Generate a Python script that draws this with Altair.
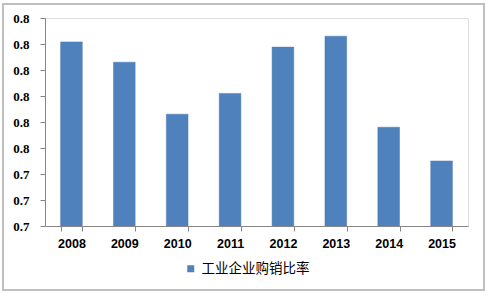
import altair as alt
import pandas as pd

years = ["2008", "2009", "2010", "2011", "2012", "2013", "2014", "2015"]
values = [0.7704, 0.7665, 0.7565, 0.7605, 0.7694, 0.7715, 0.7540, 0.7475]
series_name = "工业企业购销比率"
y_ticks = [0.735, 0.74, 0.745, 0.75, 0.755, 0.76, 0.765, 0.77, 0.775]

df = pd.DataFrame({"year": years, "value": values, "series": [series_name] * len(years)})

bars = alt.Chart(df).mark_bar(color="#4f81bd", stroke="#4a7ab5", strokeWidth=0.5, clip=True).encode(
    x=alt.X("year:N", sort=years, title=None,
            scale=alt.Scale(paddingInner=0.59, paddingOuter=0.295),
            axis=alt.Axis(labelAngle=0, tickBand="extent", labelFont="Liberation Sans",
                          labelFontWeight="bold", labelFontSize=12.5, labelColor="#000000",
                          domainColor="#868686", tickColor="#868686", tickSize=5,
                          labelPadding=6, grid=False)),
    y=alt.Y("value:Q", title=None,
            scale=alt.Scale(domain=[0.735, 0.775], nice=False, zero=False),
            axis=alt.Axis(values=y_ticks, format=".1f", labelFont="Liberation Serif",
                          labelFontWeight="bold", labelFontSize=13, labelColor="#000000",
                          domainColor="#868686", tickColor="#868686", tickSize=5,
                          labelPadding=11, grid=False)),
    color=alt.Color("series:N", scale=alt.Scale(range=["#4f81bd"]),
                    legend=alt.Legend(title=None, orient="none", legendX=139, legendY=244,
                                      symbolType="square", symbolSize=49, symbolStrokeWidth=0,
                                      labelFont="Noto Sans CJK SC", labelFontSize=13.5,
                                      labelColor="#000000", padding=0, labelOffset=4)),
)

frame_df = pd.DataFrame({"k": [0]})
frame = alt.Chart(frame_df).mark_rect(fill=None, stroke="#bfbfbf", strokeWidth=2).encode(
    x=alt.value(-42), x2=alt.value(439), y=alt.value(-14), y2=alt.value(272)
)

chart = alt.layer(bars, frame).properties(
    width=423, height=208,
    autosize=alt.AutoSizeParams(type="none"),
    padding={"left": 45, "top": 18, "right": 20, "bottom": 70},
).configure_view(stroke=None).configure(background="#ffffff")

chart.save("out.html", embed_options={"renderer": "svg", "actions": False})
